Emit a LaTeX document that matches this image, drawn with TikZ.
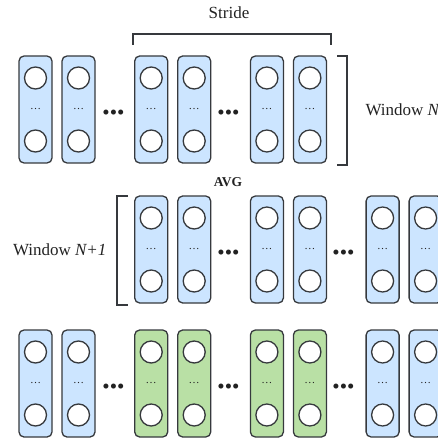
\documentclass[tikz,border=0pt]{standalone}
\usepackage{fontspec}
\setmainfont{Liberation Serif}

\definecolor{winblue}{HTML}{CCE5FF}
\definecolor{avggreen}{HTML}{B9E0A5}
\definecolor{edgegray}{HTML}{36393D}
\definecolor{textgray}{HTML}{222222}

\newcommand{\featcol}[4]{%
    \node (#4) at (#1 + 16.5, #2 + 53.5) [colbox, fill = #3] {\ldots};
    \node (#4t) at (#1 + 16.5, #2 + 22) [unit] {};
    \node (#4b) at (#1 + 16.5, #2 + 85) [unit] {};
}

\begin{document}
\begin{tikzpicture}[x = 1pt, y = -1pt,
        every node/.style = {text = textgray},
        colbox/.style = {rectangle, rounded corners = 5pt, draw = edgegray, line width = 1.3pt,
            minimum width = 33pt, minimum height = 107pt, inner sep = 0pt,
            font = \fontsize{11}{12}\selectfont},
        unit/.style = {circle, draw = edgegray, line width = 1.3pt, fill = white,
            minimum size = 22pt, inner sep = 0pt},
        gap/.style = {font = \fontsize{21}{22}\selectfont, inner sep = 0pt},
        lbl/.style = {font = \fontsize{17}{20}\selectfont},
        brace/.style = {draw = edgegray, line width = 1.2pt}]

        \useasboundingbox (0, 0) rectangle (438, 438);

        \node (stride) at (229, 13) [lbl] {Stride};
        \coordinate (s1) at (133, 45);
        \coordinate (s2) at (331, 45);
        \draw [brace] (s1) -- (133, 34) -- (331, 34) -- (s2);

        \foreach \g in {0, 1, 2} {
            \featcol{19 + 115.7*\g}{56}{winblue}{ta\g}
            \featcol{62 + 115.7*\g}{56}{winblue}{tb\g}
        }
        \foreach \g in {0, 1}
            \node (td\g) at (113.5 + 115*\g, 115) [gap] {\textbullet\textbullet\textbullet};

        \coordinate (w1) at (337, 56);
        \coordinate (w2) at (337, 165);
        \draw [brace] (w1) -- (347, 56) -- (347, 165) -- (w2);
        \node (winN) at (362, 110) [lbl, anchor = west] {Window \textit{N}};

        \node (avg) at (228, 182) [font = \fontsize{13.5}{16}\selectfont\bfseries] {AVG};

        \foreach \g in {1, 2, 3} {
            \featcol{19 + 115.7*\g}{196}{winblue}{ma\g}
            \featcol{62 + 115.7*\g}{196}{winblue}{mb\g}
        }
        \foreach \g in {1, 2}
            \node (md\g) at (113.5 + 115*\g, 255) [gap] {\textbullet\textbullet\textbullet};

        \coordinate (v1) at (128, 196);
        \coordinate (v2) at (128, 305);
        \draw [brace] (v1) -- (117, 196) -- (117, 305) -- (v2);
        \node (winN1) at (110, 250) [lbl, anchor = east] {Window \textit{N+1}};

        \foreach \g/\c in {0/winblue, 1/avggreen, 2/avggreen, 3/winblue} {
            \featcol{19 + 115.7*\g}{330}{\c}{ba\g}
            \featcol{62 + 115.7*\g}{330}{\c}{bb\g}
        }
        \foreach \g in {0, 1, 2}
            \node (bd\g) at (113.5 + 115*\g, 389) [gap] {\textbullet\textbullet\textbullet};

    \end{tikzpicture}
\end{document}
